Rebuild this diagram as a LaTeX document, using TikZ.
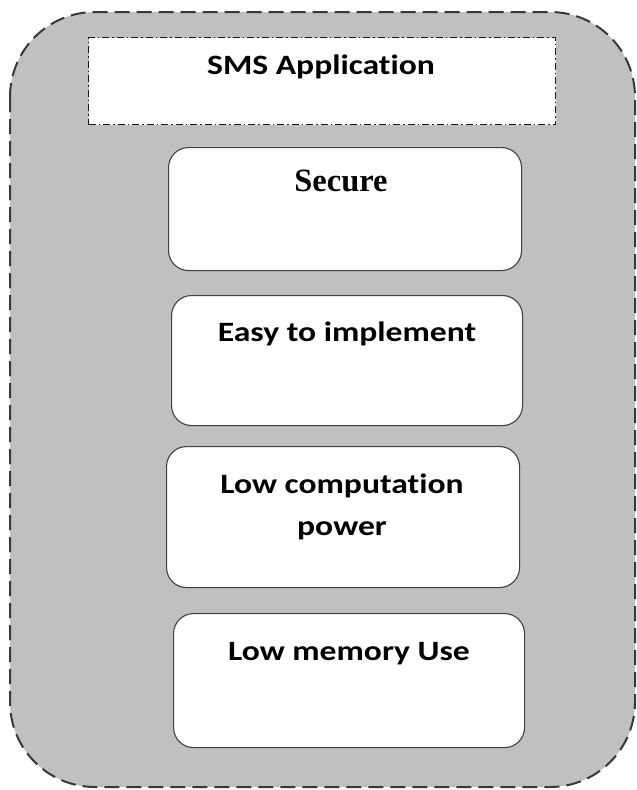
\documentclass[tikz,border=0pt]{standalone}
\usepackage{fontspec}
\setmainfont[Ligatures=NoCommon, FakeStretch=1.2]{Carlito}
\newfontfamily\serifbold{Liberation Serif}
\begin{document}
\begin{tikzpicture}[x=1pt,y=-1pt,
  frame/.style={draw=black!78, line width=2pt, dash pattern=on 15pt off 7pt,
    rounded corners=85pt},
  titlebox/.style={draw=black!90, line width=1.4pt, fill=white,
    dash pattern=on 7pt off 3pt on 1.5pt off 3pt},
  itembox/.style={draw=black!75, line width=1.1pt, fill=white, rounded corners=20pt},
  itemtext/.style={font=\bfseries\fontsize{28}{41.5}\selectfont, align=center,
    inner sep=0pt, anchor=base}
]
\useasboundingbox (0,0) rectangle (637,790);
\definecolor{panelgray}{RGB}{192,192,192}

% outer rounded panel
\draw[frame, fill=panelgray] (10,12) rectangle (635,787);
\coordinate (panel) at (322,400);

% title bar
\node[titlebox, minimum width=467pt, minimum height=87pt, anchor=north west] (title) at (88,37) {};
\node[itemtext] (titletext) at (321,74) {SMS Application};

% property boxes
\node[itembox, minimum width=353pt, minimum height=123pt, anchor=north west] (secure) at (168,147) {};
\node[font=\serifbold\bfseries\fontsize{32.5}{36}\selectfont, inner sep=0pt, anchor=base] (securetext) at (341,191) {Secure};

\node[itembox, minimum width=351pt, minimum height=130pt, anchor=north west] (easy) at (171,295) {};
\node[itemtext] (easytext) at (347,341) {Easy to implement};

\node[itembox, minimum width=353pt, minimum height=141pt, anchor=north west] (lowcomp) at (166,446) {};
% base anchor sits on the last line of a multi-line node
\node[itemtext] (lowcomptext) at (342,535) {Low computation\\power};

\node[itembox, minimum width=351pt, minimum height=134pt, anchor=north west] (lowmem) at (173,613) {};
\node[itemtext] (lowmemtext) at (349,660) {Low memory Use};
\end{tikzpicture}
\end{document}
